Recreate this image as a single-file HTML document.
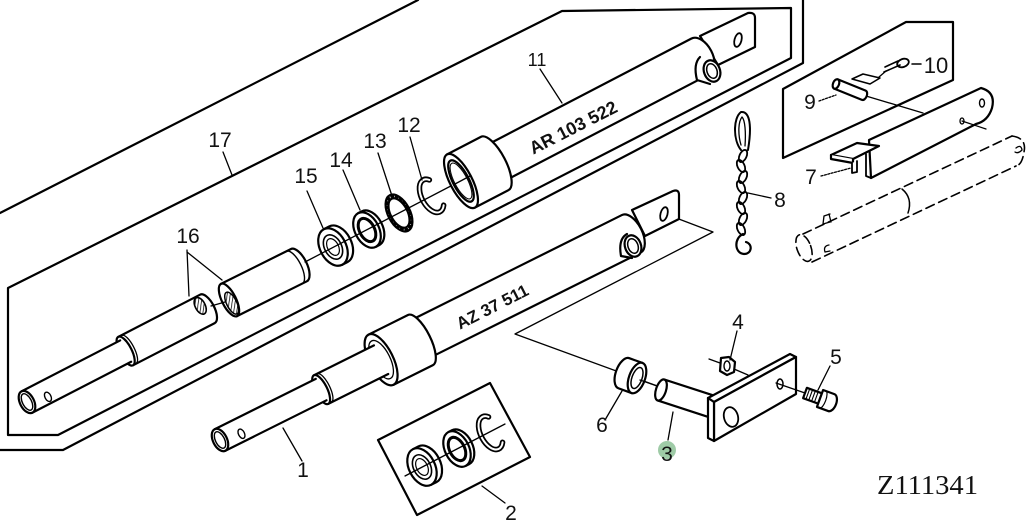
<!DOCTYPE html>
<html><head><meta charset="utf-8">
<style>
html,body{margin:0;padding:0;background:#fff;overflow:hidden}
svg{display:block}
.l{font-family:"Liberation Sans",sans-serif;font-size:21px;fill:#111;text-anchor:middle}
.b{font-family:"Liberation Sans",sans-serif;font-weight:bold;fill:#111;text-anchor:middle}
</style></head><body>
<svg width="1031" height="525" viewBox="0 0 1031 525" xmlns="http://www.w3.org/2000/svg">
<defs>
<pattern id="h" width="3" height="3" patternUnits="userSpaceOnUse" patternTransform="rotate(35)">
<rect width="3" height="3" fill="#fff"/><line x1="0" y1="0" x2="0" y2="3" stroke="#000" stroke-width="1.5"/></pattern>
</defs>
<rect width="1031" height="525" fill="#fff"/>
<g fill="none" stroke="#000" stroke-width="2.2" stroke-linejoin="round" stroke-linecap="round">

<!-- frame 17 -->
<path d="M0,213 L418,0"/>
<path d="M803,0 L803,63 L63,450 L0,450"/>
<path d="M8,288 L562,11 L791,8 L791,58 L58,435 L8,435 Z"/>

<!-- tube 16 left -->
<g transform="translate(27,402) rotate(-27.3)">
<path d="M111,-16 L203,-16 A7 16 0 0 1 203,16 L111,16 Z" fill="#fff"/>
<ellipse cx="198" cy="-6" rx="5" ry="9" fill="url(#h)" stroke-width="1.6"/>
<ellipse cx="111" cy="0" rx="6" ry="16" fill="#fff"/>
<path d="M115,-15.5 A5 15.5 0 0 1 115,15.5" stroke-width="1.3"/>
<rect x="0" y="-12" width="111" height="24" fill="#fff" stroke="none"/>
<path d="M0,-12 L111,-12 M0,12 L111,12"/>
<ellipse cx="0" cy="0" rx="7" ry="12" fill="#fff"/>
<ellipse cx="0" cy="0" rx="4.5" ry="9" stroke-width="1.4"/>
<ellipse cx="21" cy="5" rx="3" ry="5" stroke-width="1.4"/>
</g>

<!-- tube 16 right -->
<g transform="translate(229,300) rotate(-26.5)">
<path d="M0,-18 L78,-18 A8 18 0 0 1 78,18 L0,18 Z" fill="#fff"/>
<path d="M73,-18 A7 18 0 0 1 73,18" stroke-width="1.4"/>
<ellipse cx="0" cy="0" rx="7" ry="18" fill="#fff"/>
<ellipse cx="1" cy="4" rx="5" ry="12" fill="url(#h)" stroke-width="1.5"/>
</g>
<path d="M211,306 L225,302" stroke-width="1.3"/>

<!-- rings 15,14,13,12 -->
<g transform="translate(333,247) rotate(-27.5)">
<path d="M0,-20 L6,-20 A13 20 0 0 1 6,20 L0,20 Z" fill="#fff"/>
<ellipse rx="13" ry="20" fill="#fff"/>
<ellipse rx="8.5" ry="13" stroke-width="1.6"/>
<ellipse rx="5.5" ry="9" stroke-width="1.2"/>
</g>
<g transform="translate(367,230) rotate(-27.5)">
<path d="M0,-19 L4,-19 A12 19 0 0 1 4,19 L0,19 Z" fill="#fff"/>
<ellipse rx="12" ry="19" fill="#fff"/>
<ellipse rx="7.5" ry="12.5" stroke-width="3"/>
</g>
<g transform="translate(399,213) rotate(-27.5)">
<ellipse rx="11" ry="20" fill="#fff"/>
<ellipse rx="8.5" ry="16"/>
<ellipse rx="9.7" ry="18" stroke-width="2.5" stroke-dasharray="1.5 3"/>
</g>
<g transform="translate(431,196) rotate(-27.5)">
<path d="M6,-15 A10 18 0 1 0 7,14" stroke-width="5.5"/>
<path d="M6,-15 A10 18 0 1 0 7,14" stroke="#fff" stroke-width="2"/>
</g>
<path d="M305,262 L470,176" stroke-width="1.3"/>

<!-- tube 11 clevis plate -->
<path d="M700,36 L748,13 Q755,12 755,18 L755,47 L718,65 Z" fill="#fff"/>
<ellipse cx="738" cy="40" rx="3.5" ry="7" transform="rotate(15 738 40)" stroke-width="1.8"/>
<!-- tube 11 -->
<g transform="translate(461,181) rotate(-27.5)">
<path d="M38,-20 L270,-20 A12 20 0 0 1 270,20 L38,20 Z" fill="#fff"/>
<path d="M0,-30 L38,-30 A11 30 0 0 1 38,30 L0,30 Z" fill="#fff"/>
<ellipse rx="11" ry="30" fill="#fff"/>
<ellipse rx="8" ry="23"/>
<ellipse rx="6.5" ry="20" stroke-width="1"/>
</g>
<path d="M455,184 L470,176" stroke-width="1.3"/>
<!-- boss 11 -->
<path d="M700,57 Q693,64 697,80 L710,84" fill="#fff"/>
<ellipse cx="712" cy="71" rx="8" ry="11" transform="rotate(-20 712 71)" fill="#fff"/>
<ellipse cx="712" cy="71" rx="5" ry="7.5" transform="rotate(-20 712 71)" stroke-width="1.5"/>

<!-- leader from clevis of tube 1 to part 3 -->
<path d="M663,213 L713,232 L515,334 L660,387" stroke-width="1.3"/>

<!-- tube 1 clevis plate -->
<path d="M632,210 L673,191 Q679,189 679,195 L679,219 L645,236 Z" fill="#fff"/>
<ellipse cx="664" cy="214" rx="3.5" ry="7" transform="rotate(15 664 214)" stroke-width="1.8"/>
<!-- tube 1 -->
<g transform="translate(220,440) rotate(-26.5)">
<path d="M226,-22 L460,-22 A11 21 0 0 1 460,20 L226,20 Z" fill="#fff"/>
<path d="M180,-28 L224,-28 A10 28 0 0 1 224,28 L180,28 Z" fill="#fff"/>
<ellipse cx="180" rx="12" ry="28" fill="#fff"/>
<ellipse cx="180" rx="9" ry="21" stroke-width="1.3"/>
<rect x="113" y="-16" width="67" height="32" fill="#fff" stroke="none"/>
<path d="M113,-16 L180,-16 M113,16 L180,16"/>
<ellipse cx="113" rx="6" ry="16" fill="#fff"/>
<path d="M117,-15.5 A5 15.5 0 0 1 117,15.5" stroke-width="1.3"/>
<rect x="0" y="-12" width="113" height="24" fill="#fff" stroke="none"/>
<path d="M0,-12 L113,-12 M0,12 L113,12"/>
<ellipse rx="7" ry="12" fill="#fff"/>
<ellipse rx="4.5" ry="9" stroke-width="1.4"/>
<ellipse cx="22" cy="4" rx="3" ry="5" stroke-width="1.4"/>
</g>
<!-- boss 1 -->
<path d="M627,234 Q618,239 621,256 L632,258" fill="#fff"/>
<ellipse cx="633" cy="246" rx="8" ry="11" transform="rotate(-20 633 246)" fill="#fff"/>
<ellipse cx="633" cy="246" rx="5" ry="7.5" transform="rotate(-20 633 246)" stroke-width="1.5"/>

<!-- part 2 frame -->
<path d="M378,440 L490,383 L530,457 L417,515 Z"/>
<g transform="translate(422,467) rotate(-27)">
<path d="M0,-20 L6,-20 A13 20 0 0 1 6,20 L0,20 Z" fill="#fff"/>
<ellipse rx="13" ry="20" fill="#fff"/>
<ellipse rx="8.5" ry="13" stroke-width="1.6"/>
<ellipse rx="5.5" ry="9" stroke-width="1.2"/>
</g>
<g transform="translate(457,449) rotate(-27)">
<path d="M0,-19 L4,-19 A12 19 0 0 1 4,19 L0,19 Z" fill="#fff"/>
<ellipse rx="12" ry="19" fill="#fff"/>
<ellipse rx="7.5" ry="12.5" stroke-width="3"/>
</g>
<g transform="translate(490,433) rotate(-27)">
<path d="M6,-15 A10 18 0 1 0 7,14" stroke-width="5.5"/>
<path d="M6,-15 A10 18 0 1 0 7,14" stroke="#fff" stroke-width="2"/>
</g>
<path d="M405,476 L505,424" stroke-width="1.3"/>

<!-- part 6 bushing -->
<g transform="translate(637,378) rotate(20)">
<path d="M0,-16 L-14,-16 A8 16 0 0 0 -14,16 L0,16 Z" fill="#fff"/>
<ellipse rx="8" ry="16" fill="#fff"/>
<ellipse rx="5" ry="11" stroke-width="1.5"/>
</g>
<path d="M640,380 L660,387" stroke-width="1.3"/>
<!-- part 3 pin -->
<g transform="translate(661,390) rotate(18)">
<rect x="0" y="-11" width="52" height="22" fill="#fff" stroke="none"/>
<path d="M0,-11 L52,-11 M0,11 L52,11"/>
<ellipse rx="5" ry="11" fill="#fff"/>
</g>
<!-- plate -->
<path d="M708,398 L790,354 L796,357 L714,402 Z" fill="#fff"/>
<path d="M714,402 L796,357 L796,394 L714,441 Z" fill="#fff"/>
<path d="M708,398 L714,402 L714,441 L708,438 Z" fill="#fff"/>
<ellipse cx="731" cy="417" rx="7" ry="10" transform="rotate(-15 731 417)" stroke-width="1.8"/>
<ellipse cx="780" cy="384" rx="3" ry="5" stroke-width="1.5"/>
<!-- nut 4 -->
<path d="M709,359 L720,363 M734,369 L748,375" stroke-width="1.3"/>
<path d="M721,358 L729,357 L735,362 L734,372 L727,375 L720,371 Z" fill="#fff"/>
<ellipse cx="727" cy="366" rx="3" ry="5" stroke-width="1.4"/>
<!-- bolt 5 -->
<path d="M776,383 L805,393" stroke-width="1.3"/>
<g transform="translate(805,393) rotate(20)">
<rect x="0" y="-5.5" width="16" height="11" fill="#fff"/>
<path d="M3,-5.5 L3,5.5 M6,-5.5 L6,5.5 M9,-5.5 L9,5.5 M12,-5.5 L12,5.5" stroke-width="1.1"/>
<path d="M16,-9 L28,-9 A5 9 0 0 1 28,9 L16,9 Z" fill="#fff"/>
<path d="M19,-9 A3 9 0 0 1 19,9" stroke-width="1.2"/>
</g>

<!-- frame 9/10/7 -->
<path d="M953,80 L953,22 L906,22 L783,89 L783,158 Z"/>
<!-- pin 9 -->
<path d="M866,96 L923,113" stroke-width="1.3"/>
<g transform="translate(836,84) rotate(22)">
<path d="M0,-5 L30,-5 A3 5 0 0 1 30,5 L0,5 Z" fill="#fff"/>
<ellipse rx="3" ry="5" fill="#fff"/>
</g>
<path d="M852,79 L863,74 L880,78 L870,84 Z" fill="#fff" stroke-width="1.6"/>
<path d="M879,77 L886,71" stroke-width="1.3"/>
<!-- clip 10 -->
<path d="M884,72 L900,65 M885,67 L898,61" stroke-width="1.6"/>
<ellipse cx="903" cy="63" rx="6" ry="4" transform="rotate(-20 903 63)" stroke-width="1.8"/>
<path d="M912,64 L921,64" stroke-width="1.5"/>
<!-- tube 7 -->
<path d="M869,140 L981,88 Q996,92 992,108 Q988,121 976,124 L871,178 Z" fill="#fff"/>
<ellipse cx="982" cy="103" rx="2.5" ry="4" stroke-width="1.4"/>
<ellipse cx="962" cy="121" rx="2" ry="3" stroke-width="1.3"/>
<path d="M962,121 L986,129" stroke-width="1.2"/>
<!-- bracket 7 -->
<path d="M831,155 L857,143 L879,146 L853,159 Z" fill="#fff"/>
<path d="M831,155 L831,159 L853,163 L853,159" fill="#fff"/>
<path d="M852,163 L852,173 L857,172 L857,161" fill="#fff" stroke-width="1.8"/>
<path d="M866,154 L866,176 L871,178" stroke-width="1.8"/>

<!-- chain 8 -->
<path d="M741,150 C733,140 733,118 741,112 C750,111 752,126 748,150" stroke-width="2"/>
<path d="M741,145 C738,135 738,122 742,117 C745,120 746,132 745,146" stroke-width="1.3"/>
<g stroke-width="1.8">
<ellipse cx="743" cy="156" rx="3.5" ry="6.5" transform="rotate(25 743 156)"/>
<ellipse cx="741" cy="166" rx="3.5" ry="6.5" transform="rotate(-25 741 166)"/>
<ellipse cx="743" cy="177" rx="3.5" ry="6.5" transform="rotate(25 743 177)"/>
<ellipse cx="741" cy="187" rx="3.5" ry="6.5" transform="rotate(-25 741 187)"/>
<ellipse cx="743" cy="198" rx="3.5" ry="6.5" transform="rotate(25 743 198)"/>
<ellipse cx="741" cy="208" rx="3.5" ry="6.5" transform="rotate(-25 741 208)"/>
<ellipse cx="743" cy="219" rx="3.5" ry="6.5" transform="rotate(25 743 219)"/>
<ellipse cx="741" cy="229" rx="3.5" ry="6.5" transform="rotate(-25 741 229)"/>
</g>
<path d="M743,234 C734,238 734,253 744,254 C752,254 753,244 746,242" stroke-width="2.2"/>

<!-- dashed tube -->
<g stroke-width="1.6" stroke-dasharray="9 5">
<path d="M803,234 L1012,136"/>
<path d="M812,262 L1016,166"/>
<ellipse cx="804" cy="248" rx="7" ry="14" transform="rotate(-20 804 248)"/>
<path d="M1012,136 Q1027,138 1024,152 Q1022,165 1016,166"/>
</g>
<path d="M902,189 Q913,198 908,213" stroke-width="1.5"/>
<path d="M824,216 L830,214 M824,216 L823,224 L830,222 M829,214 L831,222" stroke-width="1.3"/>
<path d="M829,245 Q823,246 825,252 L830,251" stroke-width="1.3"/>
<path d="M1016,148 Q1021,144 1022,150 Q1018,154 1015,152" stroke-width="1.3"/>

<!-- leaders -->
<g stroke-width="1.3">
<path d="M223,152 L232,175"/>
<path d="M187,250 L189,296 M187,252 L222,280"/>
<path d="M307,191 L323,228"/>
<path d="M343,170 L360,210"/>
<path d="M378,153 L392,196"/>
<path d="M410,137 L422,180"/>
<path d="M540,69 L562,103"/>
<path d="M748,193 L771,198"/>
<path d="M737,331 L730,360"/>
<path d="M830,366 L818,390"/>
<path d="M605,420 L622,391"/>
<path d="M668,440 L673,412"/>
<path d="M283,428 L302,461"/>
<path d="M482,486 L505,503"/>
</g>
<path d="M819,101 L836,95" stroke-width="1.3" stroke-dasharray="2 1.5"/>
<path d="M821,176 L851,168" stroke-width="1.3" stroke-dasharray="2 1.5"/>
</g>

<!-- green highlight -->
<circle cx="667" cy="450" r="9" fill="#7fb98a" fill-opacity="0.75"/>

<!-- part labels -->
<text class="b" font-size="18" transform="translate(576,133) rotate(-27)">AR 103 522</text>
<text class="b" font-size="17" transform="translate(495,312) rotate(-27)">AZ 37 511</text>

<text class="l" x="220" y="147">17</text>
<text class="l" x="188" y="243">16</text>
<text class="l" x="306" y="183">15</text>
<text class="l" x="341" y="167">14</text>
<text class="l" x="375" y="148">13</text>
<text class="l" x="409" y="132">12</text>
<text class="l" x="537" y="66" style="font-size:18px">11</text>
<text class="l" x="936" y="73" style="font-size:22px">10</text>
<text class="l" x="810" y="109">9</text>
<text class="l" x="780" y="207">8</text>
<text class="l" x="811" y="184">7</text>
<text class="l" x="738" y="329">4</text>
<text class="l" x="836" y="364">5</text>
<text class="l" x="602" y="432">6</text>
<text class="l" x="667" y="461">3</text>
<text class="l" x="303" y="477">1</text>
<text class="l" x="511" y="520">2</text>
<text x="877" y="494" font-family="'Liberation Serif',serif" font-size="27" fill="#111" textLength="101" lengthAdjust="spacingAndGlyphs">Z111341</text>
</svg>
</body></html>
